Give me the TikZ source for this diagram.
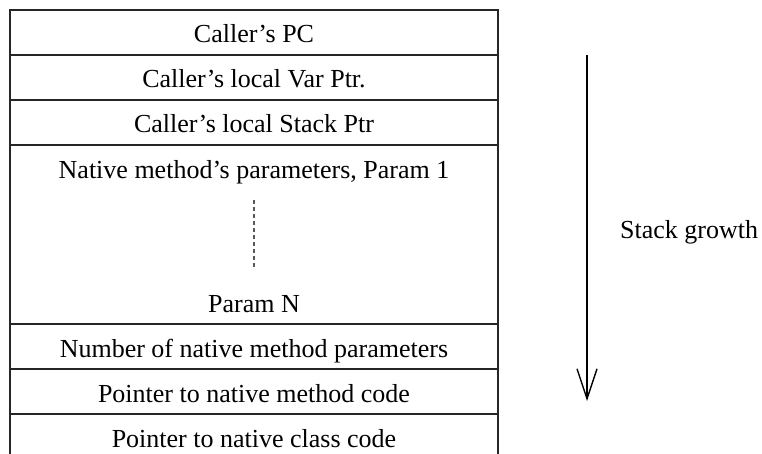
\documentclass[tikz,border=0pt]{standalone}
\usepackage{fontspec}
\setmainfont{Liberation Serif}
\usetikzlibrary{arrows.meta}
\begin{document}
\begin{tikzpicture}[x=1pt,y=-1pt,
  frame/.style={draw=black!85,line width=1.2pt},
  label/.style={font=\fontsize{26}{30}\selectfont,anchor=base,inner sep=0pt},
  gap/.style={draw=black!65,line width=1.3pt,dash pattern=on 4pt off 3pt},
  growth/.style={draw=black,line width=1.4pt,-{Straight Barb[length=30pt,width=20pt,line width=1.4pt]}}]
\useasboundingbox (0,0) rectangle (762,454);
% stack frame: open at the bottom
\draw[frame] (10,454) -- (10,10) -- (498,10) -- (498,454);
\foreach \y in {55,100,145,324,369,414}
  \draw[frame] (10,\y) -- (498,\y);
% slot labels
\node[label] (pc)    at (254,43)  {Caller’s PC};
\node[label] (lvar)  at (254,88)  {Caller’s local Var Ptr.};
\node[label] (lsp)   at (254,133) {Caller’s local Stack Ptr};
\node[label] (p1)    at (254,179) {Native method’s parameters, Param 1};
\node[label] (pn)    at (254,312) {Param N};
\node[label] (nargs) at (254,357) {Number of native method parameters};
\node[label] (mcode) at (254,402) {Pointer to native method code};
\node[label] (ccode) at (254,447) {Pointer to native class code};
% elided parameters
\coordinate (dtop) at (254,200);
\coordinate (dbot) at (254,268);
\draw[gap] (dtop) -- (dbot);
% direction of growth
\coordinate (gtop) at (587,55);
\coordinate (gbot) at (587,401);
\draw[growth] (gtop) -- (gbot);
\node[label,anchor=base west] (grow) at (620,238) {Stack growth};
\end{tikzpicture}
\end{document}
